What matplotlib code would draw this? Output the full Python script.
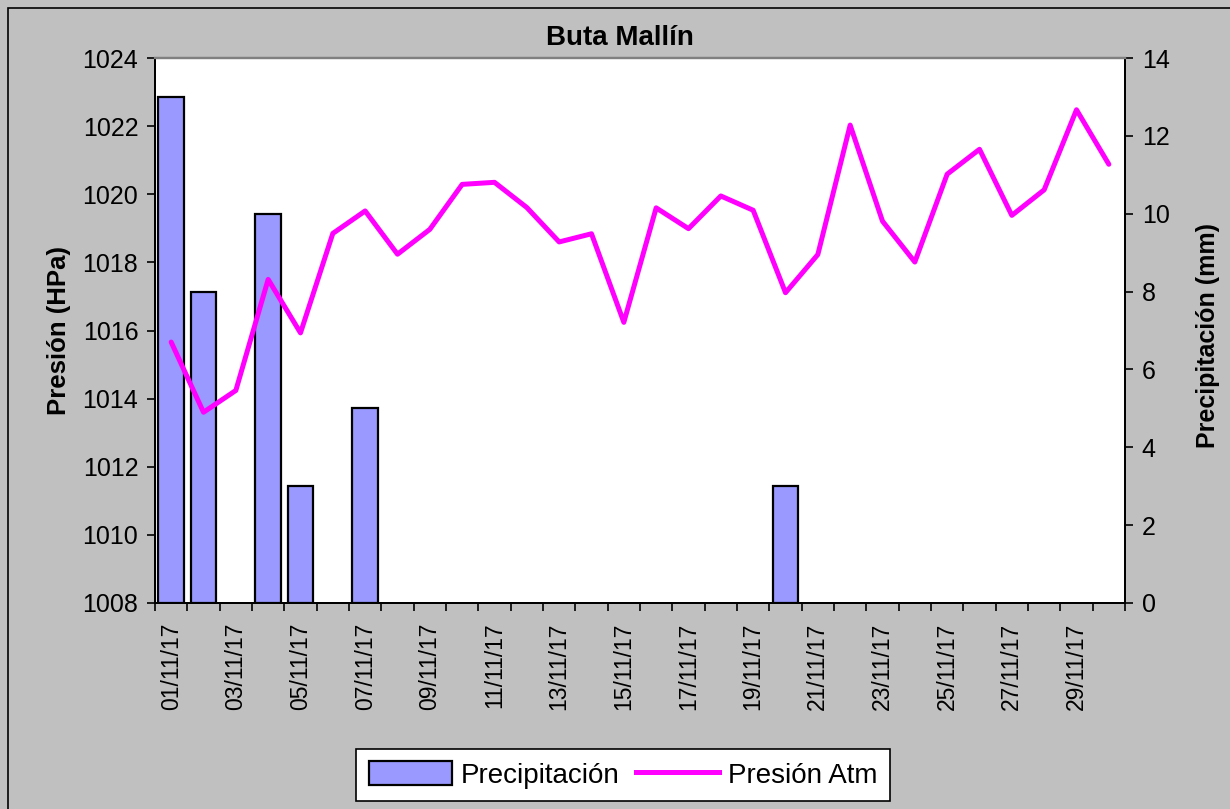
#!/usr/bin/env python3
"""Buta Mallín: daily precipitation (bars) and atmospheric pressure (line), Nov 2017."""

import matplotlib

matplotlib.use("Agg")

import matplotlib.pyplot as plt
import numpy as np
from matplotlib.lines import Line2D
from matplotlib.patches import Patch, Rectangle

plt.rcParams["font.family"] = ["Liberation Sans", "DejaVu Sans"]

DAYS = [f"{d:02d}/11/17" for d in range(1, 31)]

PRECIP_MM = [13, 8, 0, 10, 3, 0, 5, 0, 0, 0,
             0, 0, 0, 0, 0, 0, 0, 0, 0, 3,
             0, 0, 0, 0, 0, 0, 0, 0, 0, 0]

PRESSURE_HPA = [1015.66, 1013.60, 1014.24, 1017.50, 1015.93, 1018.85, 1019.51, 1018.24, 1018.97, 1020.29,
                1020.35, 1019.61, 1018.60, 1018.84, 1016.24, 1019.60, 1018.99, 1019.95, 1019.53, 1017.11,
                1018.23, 1022.03, 1019.21, 1018.01, 1020.59, 1021.32, 1019.38, 1020.13, 1022.48, 1020.88]

BG = "#c0c0c0"
BAR = "#9999ff"
LINE = "#ff00ff"


def main() -> None:
    fig = plt.figure(figsize=(12.3, 8.09), dpi=100, facecolor=BG)
    fig.patches.append(Rectangle((8 / 1230, -0.05), 1.2, 0.05 + (809 - 8) / 809,
                                 transform=fig.transFigure, fill=False,
                                 edgecolor="black", linewidth=1.2))

    ax_bar = fig.add_axes([155 / 1230, 1 - 603 / 809, (1125 - 155) / 1230, (603 - 58) / 809])
    ax_bar.set_facecolor("white")
    ax_line = ax_bar.twinx()

    x = np.arange(len(DAYS))
    # days without rain get no bar at all (not even an outline)
    precip = np.array(PRECIP_MM, dtype=float)
    precip[precip == 0] = np.nan
    ax_bar.bar(x, precip, width=0.8, color=BAR, edgecolor="black", linewidth=1.6, zorder=2)
    ax_line.plot(x, PRESSURE_HPA, color=LINE, linewidth=3.6, solid_capstyle="round", zorder=3)

    # bars on the right scale, line on the left scale
    ax_bar.yaxis.tick_right()
    ax_bar.yaxis.set_label_position("right")
    ax_line.yaxis.tick_left()
    ax_line.yaxis.set_label_position("left")

    ax_bar.set_ylim(0, 14)
    ax_bar.set_yticks(range(0, 15, 2))
    ax_line.set_ylim(1008, 1024)
    ax_line.set_yticks(range(1008, 1025, 2))

    ax_bar.set_xlim(-0.5, len(DAYS) - 0.5)
    ax_bar.set_xticks(np.arange(-0.5, len(DAYS), 1))
    ax_bar.set_xticklabels([])
    ax_bar.set_xticks(x[::2], minor=True)
    ax_bar.set_xticklabels(DAYS[::2], minor=True, rotation=90, fontsize=16.5)
    ax_bar.tick_params(axis="x", which="major", direction="out", length=6, width=1.2)
    ax_bar.tick_params(axis="x", which="minor", length=0, pad=14)

    for a in (ax_bar, ax_line):
        a.tick_params(axis="y", direction="out", length=6, width=1.2, labelsize=18, pad=6)
        for side in ("left", "right", "bottom"):
            a.spines[side].set_color("black")
            a.spines[side].set_linewidth(1.4)
        a.spines["top"].set_color("#808080")
        a.spines["top"].set_linewidth(1.6)

    ax_line.set_ylabel("Presión (HPa)", fontsize=18.5, fontweight="bold")
    ax_line.yaxis.set_label_coords(-0.087, 0.5)
    ax_bar.set_ylabel("Precipitación (mm)", fontsize=18, fontweight="bold", rotation=90)
    ax_bar.yaxis.set_label_coords(1.073, 0.49)

    fig.text(620 / 1230, 1 - 38 / 809, "Buta Mallín", ha="center", va="center",
             fontsize=20, fontweight="bold")

    handles = [
        Patch(facecolor=BAR, edgecolor="black", linewidth=1.6, label="Precipitación"),
        Line2D([], [], color=LINE, linewidth=3.6, label="Presión Atm"),
    ]
    leg = fig.legend(handles=handles, loc="center", bbox_to_anchor=(623 / 1230, 1 - 775 / 809),
                     ncol=2, fontsize=20, frameon=True, fancybox=False, edgecolor="black",
                     framealpha=1, handlelength=3.0, handleheight=0.9, columnspacing=0.6,
                     handletextpad=0.3, borderpad=0.45)
    leg.get_frame().set_linewidth(1.2)

    fig.savefig("out.png", dpi=100, facecolor=BG)


if __name__ == "__main__":
    main()
